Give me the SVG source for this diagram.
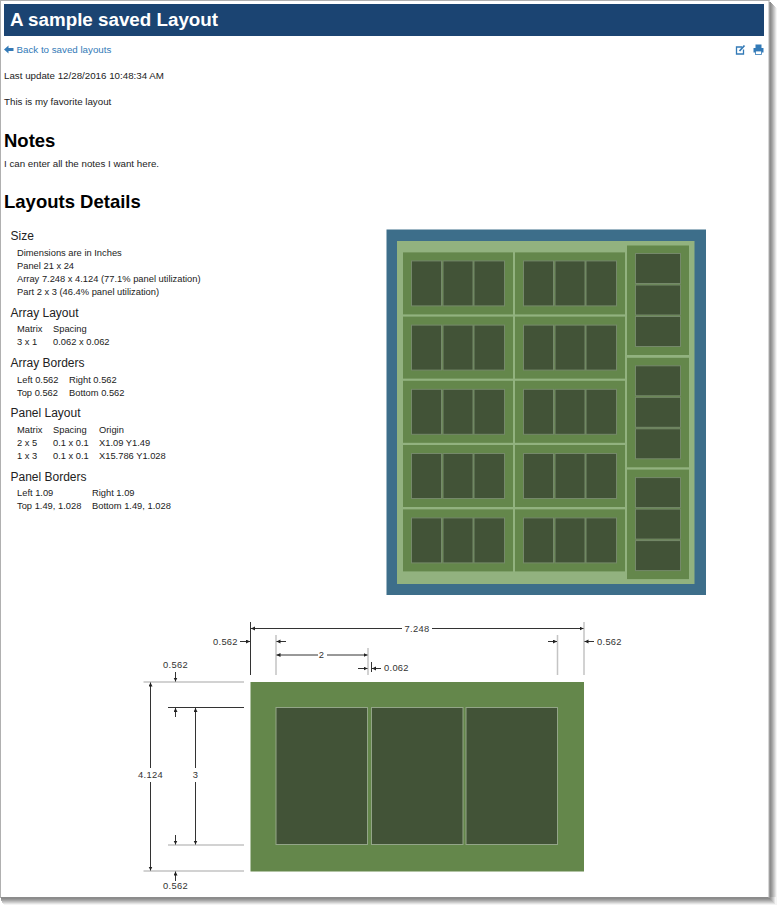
<svg xmlns="http://www.w3.org/2000/svg" width="784" height="913" viewBox="0 0 784 913">
<style>
text{font-family:"Liberation Sans",Arial,sans-serif;fill:#222}
.h1{font-size:18.8px;font-weight:bold;fill:#fff}
.h2{font-size:18.5px;font-weight:bold;fill:#000}
.h4{font-size:12px}
.t{font-size:9.33px}
.i{font-size:9.75px}
.d{font-size:9.33px;fill:#333;letter-spacing:.3px}
.arr{fill:#64874b}
.part{fill:#425337;stroke:#75896a;stroke-width:1}
.big{fill:#425337;stroke:#93a588;stroke-width:1}
.dk{stroke:#333;stroke-width:1;fill:none}
.gr{stroke:#c4c4c4;stroke-width:1.5;fill:none}
.ah{marker-end:url(#tip)}
</style>
<defs>
<marker id="tip" markerUnits="userSpaceOnUse" markerWidth="5" markerHeight="5" refX="4" refY="2" orient="auto"><path d="M0 0L4 2L0 4Z" fill="#222"/></marker>
<g id="arrayH">
<rect class="arr" width="110" height="62"/>
<rect class="part" x="8.5" y="8.5" width="30" height="45"/>
<rect class="part" x="40" y="8.5" width="30" height="45"/>
<rect class="part" x="71" y="8.5" width="30.5" height="45"/>
</g>
<g id="arrayV">
<rect class="arr" width="62" height="109.5"/>
<rect class="part" x="8.5" y="8" width="45" height="30"/>
<rect class="part" x="8.5" y="39.5" width="45" height="30"/>
<rect class="part" x="8.5" y="71" width="45" height="30"/>
</g>
</defs>
<rect width="784" height="913" fill="#fff"/>
<g id="page">
<rect x="769" y="8" width="8" height="897" fill="#f4f4f4"/><rect x="769" y="7" width="7" height="897" fill="#e2e2e2"/><rect x="769" y="6" width="6" height="897" fill="#cecece"/><rect x="769" y="5" width="5" height="897" fill="#bcbcbc"/><rect x="769" y="4" width="4" height="897" fill="#a9a9a9"/><rect x="769" y="3" width="3" height="897" fill="#999"/><rect x="769" y="2" width="2" height="897" fill="#8c8c8c"/>
<rect x="4" y="897" width="772" height="8" fill="#f4f4f4"/><rect x="3" y="897" width="772" height="7" fill="#e2e2e2"/><rect x="2" y="897" width="772" height="6" fill="#cecece"/><rect x="2" y="897" width="771" height="5" fill="#bcbcbc"/><rect x="1" y="897" width="771" height="4" fill="#a9a9a9"/><rect x="1" y="897" width="770" height="3" fill="#999"/><rect x="1" y="897" width="769" height="2" fill="#8c8c8c"/>
<rect x="0" y="0" width="769.5" height="1" fill="#b0b0b0"/><rect x="0" y="0" width="1" height="898" fill="#b0b0b0"/><rect x="768.5" y="0" width="1" height="898" fill="#b0b0b0"/>
</g>
<g id="header">
<rect x="4" y="4" width="760" height="32" fill="#1b4472"/>
<text class="h1" x="10" y="25.5">A sample saved Layout</text>
</g>
<g id="toolbar">
<path d="M4 49.5L8.5 45.5V48H13.5V51H8.5V53.5Z" fill="#337ab7"/>
<text class="i" x="16.5" y="53" style="fill:#337ab7">Back to saved layouts</text>
<g id="edit-icon" fill="none" stroke="#337ab7" stroke-width="1.3"><path d="M742 47H736.5V54H743.5V49.5"/><path d="M739.5 51L744.5 45.5" stroke-width="1.8"/></g>
<g id="print-icon" fill="#337ab7"><rect x="755.5" y="44.5" width="6" height="3.5"/><rect x="753.5" y="48" width="10" height="4.5"/><rect x="755.5" y="51" width="6" height="3.5" fill="#fff" stroke="#337ab7" stroke-width=".8"/></g>
</g>
<g id="intro">
<text class="i" x="4" y="79">Last update 12/28/2016 10:48:34 AM</text>
<text class="i" x="4" y="105">This is my favorite layout</text>
<text class="h2" x="4" y="147">Notes</text>
<text class="i" x="4" y="167">I can enter all the notes I want here.</text>
<text class="h2" x="4" y="207.5">Layouts Details</text>
</g>
<g id="details">
<text class="h4" x="10.5" y="240">Size</text>
<text class="t" x="17" y="256">Dimensions are in Inches</text>
<text class="t" x="17" y="269">Panel 21 x 24</text>
<text class="t" x="17" y="282">Array 7.248 x 4.124 (77.1% panel utilization)</text>
<text class="t" x="17" y="295">Part 2 x 3 (46.4% panel utilization)</text>
<text class="h4" x="10.5" y="317">Array Layout</text>
<text class="t" x="17" y="332">Matrix</text><text class="t" x="53" y="332">Spacing</text>
<text class="t" x="17" y="345">3 x 1</text><text class="t" x="53" y="345">0.062 x 0.062</text>
<text class="h4" x="10.5" y="367">Array Borders</text>
<text class="t" x="17" y="383">Left 0.562</text><text class="t" x="69" y="383">Right 0.562</text>
<text class="t" x="17" y="396">Top 0.562</text><text class="t" x="69" y="396">Bottom 0.562</text>
<text class="h4" x="10.5" y="417">Panel Layout</text>
<text class="t" x="17" y="433">Matrix</text><text class="t" x="53" y="433">Spacing</text><text class="t" x="99" y="433">Origin</text>
<text class="t" x="17" y="446">2 x 5</text><text class="t" x="53" y="446">0.1 x 0.1</text><text class="t" x="99" y="446">X1.09 Y1.49</text>
<text class="t" x="17" y="459">1 x 3</text><text class="t" x="53" y="459">0.1 x 0.1</text><text class="t" x="99" y="459">X15.786 Y1.028</text>
<text class="h4" x="10.5" y="481">Panel Borders</text>
<text class="t" x="17" y="496">Left 1.09</text><text class="t" x="92" y="496">Right 1.09</text>
<text class="t" x="17" y="509">Top 1.49, 1.028</text><text class="t" x="92" y="509">Bottom 1.49, 1.028</text>
</g>
<g id="panel">
<rect x="386.5" y="229.5" width="319.5" height="365.5" fill="#3d6e8a"/>
<rect x="397" y="241" width="297.5" height="343" fill="#92b27f"/>
<use href="#arrayH" x="403" y="252.4"/><use href="#arrayH" x="403" y="316.6"/><use href="#arrayH" x="403" y="380.8"/><use href="#arrayH" x="403" y="445"/><use href="#arrayH" x="403" y="509.4"/>
<use href="#arrayH" x="515" y="252.4"/><use href="#arrayH" x="515" y="316.6"/><use href="#arrayH" x="515" y="380.8"/><use href="#arrayH" x="515" y="445"/><use href="#arrayH" x="515" y="509.4"/>
<use href="#arrayV" x="627" y="245.5"/><use href="#arrayV" x="627" y="357.8"/><use href="#arrayV" x="627" y="469.6"/>
</g>
<g id="array-detail">
<rect x="250.5" y="682" width="333.5" height="189.5" fill="#64874b"/>
<rect class="big" x="276" y="707.5" width="91.5" height="137"/>
<rect class="big" x="371.5" y="707.5" width="91.5" height="137"/>
<rect class="big" x="466" y="707.5" width="91.5" height="137"/>
</g>
<g id="dimensions">
<path class="gr" d="M276 635V675M368 648V675M557.5 635V675M584 622V675M143.5 682H244M168 845H244M143.5 871H244"/>
<path class="dk" d="M250.5 622V675M371.5 662V672M168 707.5H244"/>
<path class="dk ah" d="M402 628.5H251"/><path class="dk ah" d="M432 628.5H583.5"/>
<path class="dk ah" d="M240 641.5H250"/><path class="dk ah" d="M286 641.5H276.5"/>
<path class="dk ah" d="M548 641.5H557"/><path class="dk ah" d="M594 641.5H584.5"/>
<path class="dk ah" d="M318 655H276.5"/><path class="dk ah" d="M327 655H367.5"/>
<path class="dk ah" d="M358 668.5H367.5"/><path class="dk ah" d="M381 668.5H372"/>
<path class="dk ah" d="M150.5 768V682.5"/><path class="dk ah" d="M150.5 782V870.5"/>
<path class="dk ah" d="M175.5 672V681.5"/><path class="dk ah" d="M175.5 717V708"/>
<path class="dk ah" d="M175.5 835V844.5"/><path class="dk ah" d="M175.5 881V871.5"/>
<path class="dk ah" d="M195.5 768V708"/><path class="dk ah" d="M195.5 782V844.5"/>
<text class="d" x="417" y="631.5" text-anchor="middle">7.248</text>
<text class="d" x="213" y="644.5">0.562</text>
<text class="d" x="597" y="644.5">0.562</text>
<text class="d" x="321.5" y="658" text-anchor="middle">2</text>
<text class="d" x="384" y="671">0.062</text>
<text class="d" x="175.5" y="668" text-anchor="middle">0.562</text>
<text class="d" x="175.5" y="889" text-anchor="middle">0.562</text>
<text class="d" x="150.5" y="778" text-anchor="middle">4.124</text>
<text class="d" x="195.5" y="778" text-anchor="middle">3</text>
</g>
</svg>
